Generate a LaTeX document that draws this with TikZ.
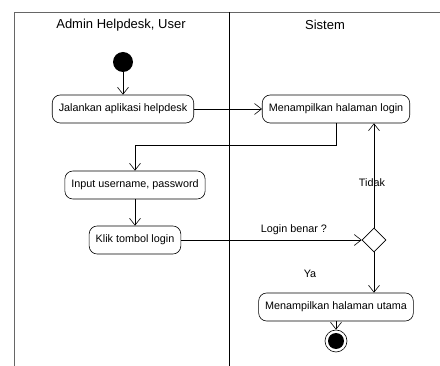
\documentclass[tikz,border=0pt]{standalone}
\usepackage{fontspec}
\setmainfont{Liberation Sans}
\usetikzlibrary{arrows.meta,shapes.geometric}

\begin{document}
\begin{tikzpicture}[
    x=1pt, y=-1pt,
    aksi/.style={draw, rounded corners=8pt, minimum height=28pt, inner xsep=6.5pt, font=\fontsize{10.8}{13}\selectfont},
    panah/.style={-{Straight Barb[length=7pt,width=11pt]}},
    label/.style={font=\fontsize{10.8}{13}\selectfont},
    judul/.style={font=\fontsize{13}{15}\selectfont},
    semithick
]
    \useasboundingbox (0,0) rectangle (440,366);

    % Kolom swimlane
    \draw[gray!80!black, thick] (14,366) -- (14,12) -- (440,12);
    \draw (229,12) -- (229,366);
    \node[judul] (kol1) at (121,25) {Admin Helpdesk, User};
    \node[judul] (kol2) at (325,25) {Sistem};

    % Titik awal dan aktivitas
    \node[circle, fill=black, minimum size=20pt, inner sep=0pt] (awal) at (123,62) {};
    \node[aksi] (jalan) at (123,109) {Jalankan aplikasi helpdesk};
    \node[aksi] (login) at (336,109) {Menampilkan halaman login};
    \node[aksi] (input) at (135,185) {Input username, password};
    \node[aksi] (klik) at (135,240) {Klik tombol login};
    \node[diamond, draw, fill=white, minimum size=24pt, inner sep=0pt] (cek) at (374,240) {};
    \node[aksi] (utama) at (336,307) {Menampilkan halaman utama};

    % Titik akhir
    \node[circle, draw, minimum size=22pt, inner sep=0pt] (akhir) at (336,341) {};
    \node[circle, fill=black, minimum size=16pt, inner sep=0pt] (akhir2) at (akhir) {};

    % Alur
    \draw[panah] (awal) -- (jalan);
    \draw[panah] (jalan) -- (login);
    \draw[panah] (login.south) -- ++(0,22) -| (input.north);
    \draw[panah] (input) -- (klik);
    \draw[panah] (klik) -- (cek);
    \draw[panah] (cek.north) -- (cek.north |- login.south);
    \draw[panah] (cek.south) -- (cek.south |- utama.north);
    \draw[panah] (utama) -- (akhir);

    % Keterangan
    \node[label] (benar) at (294,230) {Login benar ?};
    \node[label] (tidak) at (372,183) {Tidak};
    \node[label] (ya) at (310,274) {Ya};
\end{tikzpicture}
\end{document}
